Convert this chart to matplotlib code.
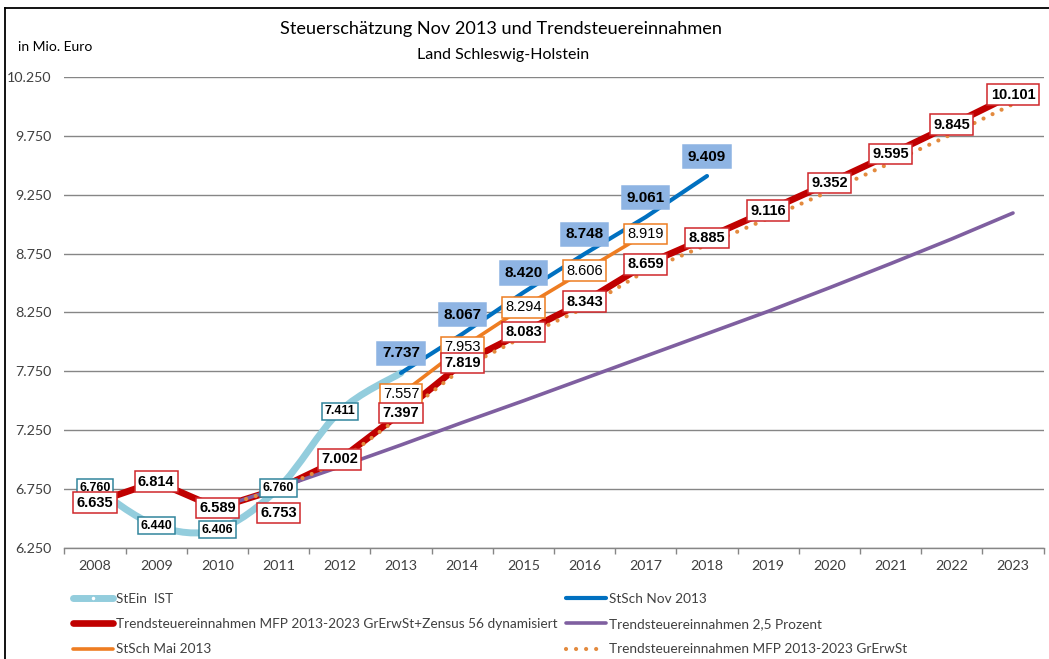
import matplotlib
matplotlib.use("Agg")
import matplotlib.pyplot as plt
from matplotlib.path import Path
from matplotlib.patches import PathPatch
from matplotlib.lines import Line2D
from matplotlib.ticker import FixedLocator, FuncFormatter

# ---------------- data ----------------
years = [2008, 2009, 2010, 2011, 2012, 2013, 2014, 2015, 2016, 2017,
         2018, 2019, 2020, 2021, 2022, 2023]

ist_years = [2008, 2009, 2010, 2011, 2012, 2013]
ist_vals = [6760, 6440, 6406, 6760, 7411, 7737]

nov_years = [2013, 2014, 2015, 2016, 2017, 2018]
nov_vals = [7737, 8067, 8420, 8748, 9061, 9409]

zensus_years = years
zensus_vals = [6635, 6814, 6589, 6753, 7002, 7397, 7819, 8083, 8343, 8659,
               8885, 9116, 9352, 9595, 9845, 10101]

mai_years = [2013, 2014, 2015, 2016, 2017]
mai_vals = [7557, 7953, 8294, 8606, 8919]

trend25_years = years[2:]
trend25_vals = [6589, 6760, 6940, 7125, 7315, 7500, 7690, 7880, 8070, 8260,
                8460, 8665, 8875, 9095]

grerw_years = years[2:]
grerw_vals = [6589, 6753, 6985, 7370, 7775, 8045, 8290, 8605, 8825, 9050,
              9280, 9520, 9765, 10020]

yticks = [6250, 6750, 7250, 7750, 8250, 8750, 9250, 9750, 10250]

title = "Steuerschätzung Nov 2013 und Trendsteuereinnahmen"
subtitle = "Land Schleswig-Holstein"
unit_label = "in Mio. Euro"

lbl_ist = "StEin  IST"
lbl_nov = "StSch Nov 2013"
lbl_zensus = "Trendsteuereinnahmen MFP 2013-2023 GrErwSt+Zensus 56 dynamisiert"
lbl_25 = "Trendsteuereinnahmen 2,5 Prozent"
lbl_mai = "StSch Mai 2013"
lbl_grerw = "Trendsteuereinnahmen MFP 2013-2023 GrErwSt"

# ---------------- style ----------------
C_IST = "#93CDDD"
C_IST_EDGE = "#31859C"
C_NOV = "#0070C0"
C_NOV_FILL = "#8EB4E3"
C_RED = "#C00000"
C_RED_EDGE = "#D0272B"
C_MAI = "#EE7D22"
C_PURPLE = "#7F5FA0"
C_DOT = "#E38A3E"
C_GRID = "#868686"
C_TXT = "#404040"

W, H = 1049, 659
fig = plt.figure(figsize=(W / 100, H / 100), dpi=100)
ax_l, ax_r, ax_t, ax_b = 64.4, 1043.6, 77, 548
ax = fig.add_axes([ax_l / W, 1 - ax_b / H, (ax_r - ax_l) / W, (ax_b - ax_t) / H])

idx = {y: i for i, y in enumerate(years)}
def xs(yrs):
    return [idx[y] for y in yrs]

ax.set_xlim(-0.5, len(years) - 0.5)
ax.set_ylim(yticks[0], yticks[-1])

# grid / axes
for s in ["left", "right", "top"]:
    ax.spines[s].set_visible(False)
ax.spines["bottom"].set_color(C_GRID)
ax.spines["bottom"].set_linewidth(1.0)
ax.set_yticks(yticks)
ax.yaxis.set_major_formatter(FuncFormatter(lambda v, p: f"{int(v):,}".replace(",", ".")))
ax.tick_params(axis="y", length=0, pad=9.5, labelsize=10.3, labelcolor=C_TXT)
ax.grid(axis="y", color=C_GRID, linewidth=1.0)
ax.set_axisbelow(True)
ax.set_xticks(range(len(years)))
ax.set_xticklabels([str(y) for y in years], fontfamily="Lato", fontsize=10.3, color=C_TXT)
ax.tick_params(axis="x", which="major", length=0, pad=8.5)
ax.xaxis.set_minor_locator(FixedLocator([i - 0.5 for i in range(len(years) + 1)]))
ax.tick_params(axis="x", which="minor", length=4.5, width=1.0, color=C_GRID, direction="out")
for t in ax.get_yticklabels():
    t.set_fontfamily("Lato")

# ---------------- lines ----------------
ax.plot(xs(zensus_years), zensus_vals, color=C_RED, lw=4.8, solid_capstyle="butt", zorder=2)
ax.plot(xs(trend25_years), trend25_vals, color=C_PURPLE, lw=2.6, solid_capstyle="round", zorder=2.2)
ax.plot(xs(grerw_years), grerw_vals, color=C_DOT, lw=3.0, linestyle=(0, (0.01, 2.4)),
        dash_capstyle="round", zorder=2.4)
ax.plot(xs(mai_years), mai_vals, color=C_MAI, lw=2.6, solid_capstyle="round", zorder=2.5)

# smoothed IST curve (Catmull-Rom -> Bezier through the data points)
px = xs(ist_years)
py = ist_vals
pts = list(zip(px, py))
verts = [pts[0]]
codes = [Path.MOVETO]
n = len(pts)
for i in range(n - 1):
    p0 = pts[i - 1] if i > 0 else pts[i]
    p1 = pts[i]
    p2 = pts[i + 1]
    p3 = pts[i + 2] if i + 2 < n else pts[i + 1]
    c1 = (p1[0] + (p2[0] - p0[0]) / 6, p1[1] + (p2[1] - p0[1]) / 6)
    c2 = (p2[0] - (p3[0] - p1[0]) / 6, p2[1] - (p3[1] - p1[1]) / 6)
    verts += [c1, c2, p2]
    codes += [Path.CURVE4] * 3
ax.add_patch(PathPatch(Path(verts, codes), fill=False, edgecolor=C_IST, lw=5.0,
                       capstyle="round", zorder=2.6))

ax.plot(xs(nov_years), nov_vals, color=C_NOV, lw=3.0, solid_capstyle="round", zorder=2.7)

# ---------------- data labels ----------------
def fmt(v):
    return f"{v:,}".replace(",", ".")

def put(x, v, size, weight, fc, ec, dy=0.0, dx=0.0, z=5, pad=0.22):
    ax.annotate(fmt(v), (x, v), xytext=(dx, dy), textcoords="offset points",
                ha="center", va="center", fontsize=size, fontweight=weight,
                fontfamily="Liberation Sans", color="black", zorder=z,
                bbox=dict(boxstyle=f"square,pad={pad}", fc=fc, ec=ec, lw=1.1))

for x, v in zip(xs(ist_years[:-1]), ist_vals[:-1]):
    put(x, v, 9, "bold", "white", C_IST_EDGE, z=5)

for x, v in zip(xs(mai_years), mai_vals):
    put(x, v, 10.5, "normal", "white", C_MAI, z=6)

for x, v, y in zip(xs(zensus_years), zensus_vals, zensus_years):
    dy = -17.5 if y == 2011 else 0.0
    put(x, v, 10.5, "bold", "white", C_RED_EDGE, dy=dy, z=7)

for x, v in zip(xs(nov_years), nov_vals):
    put(x, v, 11, "bold", C_NOV_FILL, C_NOV_FILL, dy=14.0, z=8, pad=0.3)

# ---------------- texts ----------------
fig.text(500.5 / W, 1 - 29 / H, title, ha="center", va="center", fontsize=13.1,
         fontfamily="Lato", color="black")
fig.text(503 / W, 1 - 55.5 / H, subtitle, ha="center", va="center", fontsize=11.5,
         fontfamily="Lato", color="black")
fig.text(18 / W, 1 - 47 / H, unit_label, ha="left", va="center", fontsize=10,
         fontfamily="Lato", color="black")

# outer frame (left and top edges visible)
fig.add_artist(Line2D([5 / W, 5 / W], [0, 1 - 8 / H], color="black", lw=1.3,
                      transform=fig.transFigure))
fig.add_artist(Line2D([5 / W, 1], [1 - 8 / H, 1 - 8 / H], color="black", lw=1.3,
                      transform=fig.transFigure))

# ---------------- legend ----------------
h_ist = Line2D([], [], color=C_IST, lw=5.0, solid_capstyle="round",
               marker="o", markersize=1.5, markerfacecolor="white", markeredgecolor="white")
h_nov = Line2D([], [], color=C_NOV, lw=3.0, solid_capstyle="round")
h_zen = Line2D([], [], color=C_RED, lw=4.8, solid_capstyle="round")
h_25 = Line2D([], [], color=C_PURPLE, lw=2.6, solid_capstyle="round")
h_mai = Line2D([], [], color=C_MAI, lw=2.6, solid_capstyle="round")
h_grw = Line2D([], [], color=C_DOT, lw=3.0, linestyle=(0, (0.01, 2.4)), dash_capstyle="round")

LFS = 9.8
common = dict(loc="upper left", frameon=False, handlelength=40 / (LFS * 100 / 72),
              handletextpad=0.2, labelspacing=0.97, borderpad=0, borderaxespad=0,
              prop={"family": "Lato", "size": LFS})
leg1 = fig.legend([h_ist, h_zen, h_mai], [lbl_ist, lbl_zensus, lbl_mai],
                  bbox_to_anchor=(73 / W, 1 - 593 / H), **common)
leg2 = fig.legend([h_nov, h_25, h_grw], [lbl_nov, lbl_25, lbl_grerw],
                  bbox_to_anchor=(566 / W, 1 - 593 / H), **common)
for lg in (leg1, leg2):
    for t in lg.get_texts():
        t.set_color(C_TXT)

fig.savefig("out.png", dpi=100)
